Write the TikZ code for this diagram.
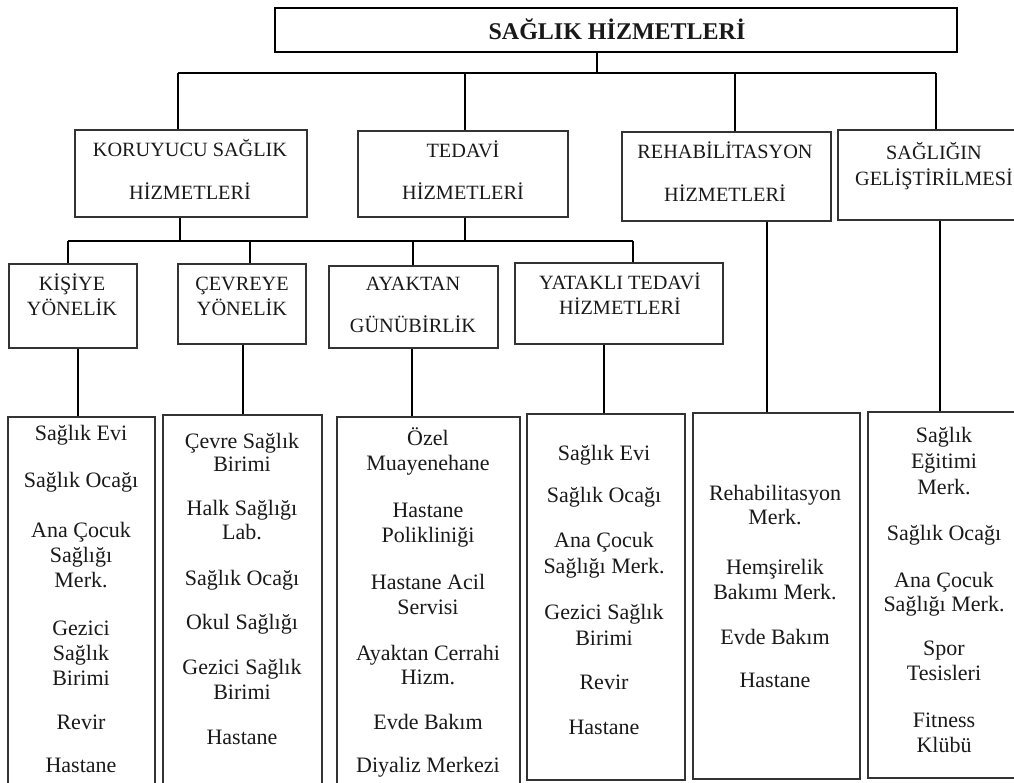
\documentclass[tikz,border=0pt]{standalone}
\usepackage{fontspec}
\setmainfont{Liberation Serif}
\usetikzlibrary{fit}

\tikzset{
  box/.style={draw=black!80, line width=1.1pt, inner sep=0pt},
  topbox/.style={draw=black, line width=1.6pt, inner sep=0pt},
  conn/.style={draw=black, line width=2.2pt},
  head/.style={anchor=base, inner sep=0pt, text=black!90, font=\fontsize{15.2}{18}\selectfont},
  item/.style={anchor=base, inner sep=0pt, text=black!90, font=\fontsize{16.5}{19}\selectfont},
  titletext/.style={anchor=base, inner sep=0pt, text=black!90, font=\bfseries\fontsize{18}{22}\selectfont}
}

\begin{document}
\begin{tikzpicture}[x=0.75pt, y=-0.75pt]
\useasboundingbox (0,0) rectangle (1014,782);
\clip (0,0) rectangle (1014,782);

% ---- boxes ----
\node[topbox, fit={(275,8)(957,52)}] (top) {};

\node[box, fit={(75,130)(307,217)}] (kor) {};
\node[box, fit={(358,131)(568,217)}] (ted) {};
\node[box, fit={(622,132)(831,221)}] (reh) {};
\node[box, fit={(838,130)(1040,220)}] (sgl) {};

\node[box, fit={(9,264)(137,348)}] (kis) {};
\node[box, fit={(178,264)(306,344)}] (cev) {};
\node[box, fit={(329,266)(498,348)}] (aya) {};
\node[box, fit={(515,263)(723,344)}] (yat) {};

\node[box, fit={(8,417)(155,800)}] (l1) {};
\node[box, fit={(163,415)(322,800)}] (l2) {};
\node[box, fit={(337,417)(520,800)}] (l3) {};
\node[box, fit={(527,414)(685,780)}] (l4) {};
\node[box, fit={(693,413)(860,779)}] (l5) {};
\node[box, fit={(868,412)(1040,778)}] (l6) {};

% ---- connectors ----
\coordinate (j0) at (597,73);
\coordinate (j1) at (178,73);
\coordinate (j2) at (465,73);
\coordinate (j3) at (735,73);
\coordinate (j4) at (936,73);
\draw[conn] (top.south -| j0) -- (j0);
\draw[conn] (j1) -- (j4);
\draw[conn] (j1) -- (kor.north -| j1);
\draw[conn] (j2) -- (ted.north -| j2);
\draw[conn] (j3) -- (reh.north -| j3);
\draw[conn] (j4) -- (sgl.north -| j4);

\coordinate (k0) at (180,241);
\coordinate (t0) at (465,241);
\coordinate (m1) at (68,241);
\coordinate (m2) at (250,241);
\coordinate (m3) at (413,241);
\coordinate (m4) at (633,241);
\draw[conn] (kor.south -| k0) -- (k0);
\draw[conn] (ted.south -| t0) -- (t0);
\draw[conn] (m1) -- (m4);
\draw[conn] (m1) -- (kis.north -| m1);
\draw[conn] (m2) -- (cev.north -| m2);
\draw[conn] (m3) -- (aya.north -| m3);
\draw[conn] (m4) -- (yat.north -| m4);

\coordinate (d1) at (78,0);
\coordinate (d2) at (243,0);
\coordinate (d3) at (412,0);
\coordinate (d4) at (604,0);
\coordinate (d5) at (767,0);
\coordinate (d6) at (940,0);
\draw[conn] (kis.south -| d1) -- (l1.north -| d1);
\draw[conn] (cev.south -| d2) -- (l2.north -| d2);
\draw[conn] (aya.south -| d3) -- (l3.north -| d3);
\draw[conn] (yat.south -| d4) -- (l4.north -| d4);
\draw[conn] (reh.south -| d5) -- (l5.north -| d5);
\draw[conn] (sgl.south -| d6) -- (l6.north -| d6);

% ---- headings ----
\node[titletext] (title) at (617,39) {SAĞLIK HİZMETLERİ};

\node[head] (korA) at (190,156) {KORUYUCU SAĞLIK};
\node[head] (korB) at (190,199) {HİZMETLERİ};
\node[head] (tedA) at (463,157) {TEDAVİ};
\node[head] (tedB) at (463,199) {HİZMETLERİ};
\node[head] (rehA) at (725,158) {REHABİLİTASYON};
\node[head] (rehB) at (725,201) {HİZMETLERİ};
\node[head] (sglA) at (934,159) {SAĞLIĞIN};
\node[head] (sglB) at (934,185) {GELİŞTİRİLMESİ};

\node[head] (kisA) at (72,290) {KİŞİYE};
\node[head] (kisB) at (72,315) {YÖNELİK};
\node[head] (cevA) at (242,290) {ÇEVREYE};
\node[head] (cevB) at (242,315) {YÖNELİK};
\node[head] (ayaA) at (413,290) {AYAKTAN};
\node[head] (ayaB) at (413,332) {GÜNÜBİRLİK};
\node[head] (yatA) at (620,289) {YATAKLI TEDAVİ};
\node[head] (yatB) at (620,314) {HİZMETLERİ};

% ---- lists (baselines) ----
\foreach \yy/\tt [count=\i] in {440/Sağlık Evi, 487/Sağlık Ocağı, 537/Ana Çocuk,
    562/Sağlığı, 587/Merk., 635/Gezici, 660/Sağlık, 685/Birimi, 729/Revir, 772/Hastane}
  \node[item] (a\i) at (81,\yy) {\tt};

\foreach \yy/\tt [count=\i] in {448/Çevre Sağlık, 471/Birimi, 515/Halk Sağlığı, 539/Lab.,
    585/Sağlık Ocağı, 629/Okul Sağlığı, 674/Gezici Sağlık, 699/Birimi, 744/Hastane}
  \node[item] (b\i) at (242,\yy) {\tt};

\foreach \yy/\tt [count=\i] in {445/Özel, 470/Muayenehane, 517/Hastane, 542/Polikliniği,
    589/Hastane Acil, 614/Servisi, 660/Ayaktan Cerrahi, 684/Hizm., 729/Evde Bakım, 772/Diyaliz Merkezi}
  \node[item] (c\i) at (428,\yy) {\tt};

\foreach \yy/\tt [count=\i] in {460/Sağlık Evi, 502/Sağlık Ocağı, 547/Ana Çocuk,
    573/Sağlığı Merk., 619/Gezici Sağlık, 645/Birimi, 689/Revir, 734/Hastane}
  \node[item] (e\i) at (604,\yy) {\tt};

\foreach \yy/\tt [count=\i] in {500/Rehabilitasyon, 524/Merk., 574/Hemşirelik,
    599/Bakımı Merk., 644/Evde Bakım, 687/Hastane}
  \node[item] (f\i) at (775,\yy) {\tt};

\foreach \yy/\tt [count=\i] in {442/Sağlık, 468/Eğitimi, 494/Merk., 540/Sağlık Ocağı,
    587/Ana Çocuk, 611/Sağlığı Merk., 655/Spor, 680/Tesisleri, 727/Fitness, 752/Klübü}
  \node[item] (g\i) at (944,\yy) {\tt};

\end{tikzpicture}
\end{document}
